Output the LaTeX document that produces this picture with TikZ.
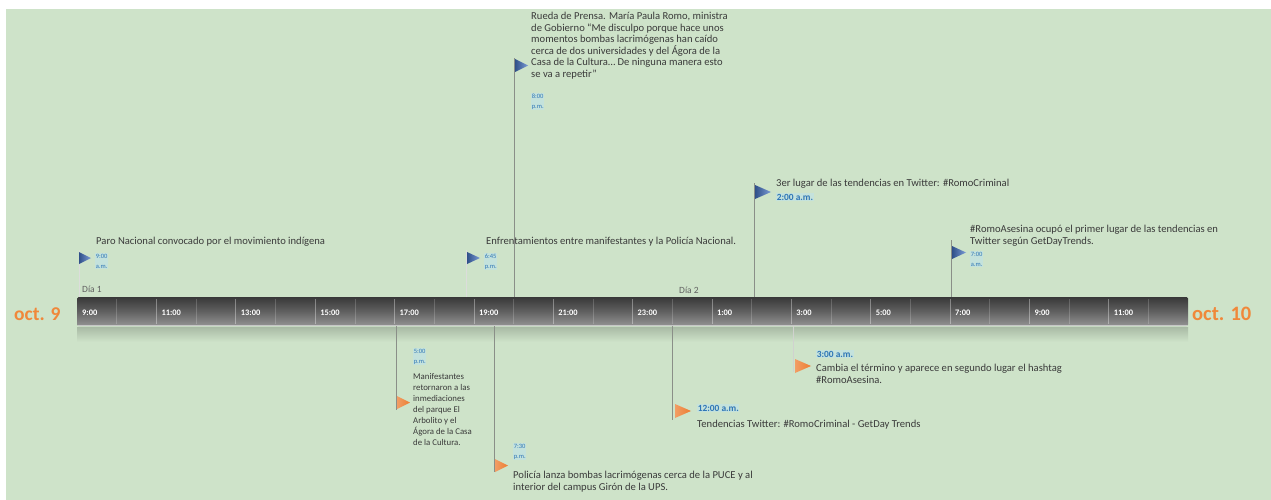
\documentclass[tikz,border=0pt]{standalone}
\usepackage{fontspec}
\setmainfont{Carlito}
\definecolor{bg}{HTML}{CEE3C9}
\definecolor{txt}{HTML}{3A3A3A}
\definecolor{tblue}{HTML}{2E75B6}
\definecolor{hl}{HTML}{C4E2DC}
\definecolor{fblue}{HTML}{4472C4}
\definecolor{forange}{HTML}{ED7D31}
\definecolor{octc}{HTML}{F0883A}
\definecolor{polec}{HTML}{8A8F88}
\begin{document}
\begin{tikzpicture}[x=1pt,y=-1pt,
  desc/.style={anchor=north west, inner sep=0pt, font=\fontsize{10.6}{11.6}\selectfont, text=txt, align=left},
  descs/.style={anchor=north west, inner sep=0pt, font=\fontsize{8.8}{11}\selectfont, text=txt, align=left},
  descl/.style={anchor=base west, inner sep=0pt, font=\fontsize{10.6}{11.6}\selectfont, text=txt},
  tm/.style={anchor=north west, inner sep=0.6pt, font=\fontsize{6.5}{10}\selectfont, text=tblue, align=left, fill=hl},
  tmb/.style={anchor=base west, inner sep=0.6pt, font=\bfseries\fontsize{9.4}{10}\selectfont, text=tblue, fill=hl},
  pole/.style={draw=polec, line width=0.6pt},
  tick/.style={anchor=base west, inner sep=0pt, font=\bfseries\fontsize{8.4}{9}\selectfont, text=white},
  octlab/.style={anchor=base west, inner sep=0pt, font=\bfseries\fontsize{19.5}{20}\selectfont, text=octc},
  dia/.style={anchor=base west, inner sep=0pt, font=\fontsize{9.5}{10}\selectfont, text=txt!80}]
\useasboundingbox (0,0) rectangle (1271,500);
\fill[white] (0,0) rectangle (1271,500);
\fill[bg] (6,9) rectangle (1271,500);

% reflection band under bar
\shade[top color=black!18!bg, bottom color=bg] (77,327) rectangle (1188,342);
% bar
\shade[top color=black!78, bottom color=black!42, middle color=black!62, rounded corners=1.5pt] (77,297) rectangle (1188,326);
\draw[white, opacity=0.5, line width=0.6pt] (78,325.5) -- (1187,325.5);
% separators and tick labels
\foreach \k in {1,...,13} {
  \draw[white, opacity=0.35, line width=0.5pt] ({77+79.36*\k},299) -- ({77+79.36*\k},324);
}
\foreach \k in {0,...,13} {
  \draw[white, opacity=0.18, line width=0.4pt] ({77+79.36*\k+39.68},299) -- ({77+79.36*\k+39.68},324);
}
\foreach \lab [count=\i from 0] in {9:00,11:00,13:00,15:00,17:00,19:00,21:00,23:00,1:00,3:00,5:00,7:00,9:00,11:00} {
  \node[tick] (t\i) at ({77+79.36*\i+5},315) {\lab};
}
\node[octlab] (oct9) at (14,320) {oct. 9};
\node[octlab, font=\bfseries\fontsize{20.5}{21}\selectfont] (oct10) at (1192,320) {oct. 10};
\node[dia] (dia1) at (82,292) {Día 1};
\node[dia] (dia2) at (679,293) {Día 2};

% ---------- events above ----------
% 1 Paro Nacional
\coordinate (b1) at (79,297); \coordinate (f1) at (79,250);
\draw[pole, draw=white!70!polec] (b1) -- (f1);
\shade[left color=fblue!70!black, right color=fblue!70] (79,252) -- (91,258) -- (79,264) -- cycle;
\node[descl] (e1) at (96,244) {Paro Nacional convocado por el movimiento indígena};
\node[tm] (e1t) at (95,253) {9:00\\a.m.};

% 2 Enfrentamientos
\coordinate (b2) at (466,297); \coordinate (f2) at (466,250);
\draw[pole, draw=white!70!polec] (b2) -- (f2);
\shade[left color=fblue!70!black, right color=fblue!70] (467,252) -- (480,258) -- (467,264) -- cycle;
\node[descl] (e2) at (486,244) {Enfrentamientos entre manifestantes y la Policía Nacional.};
\node[tm] (e2t) at (484,253) {6:45\\p.m.};

% 3 Rueda de Prensa
\coordinate (b3) at (514,297); \coordinate (f3) at (514,58);
\draw[pole] (b3) -- (f3);
\shade[left color=fblue!70!black, right color=fblue!70] (515,59) -- (528,65.5) -- (515,72) -- cycle;
\node[desc] (e3) at (531,12) {Rueda de Prensa. María Paula Romo, ministra\\de Gobierno “Me disculpo porque hace unos\\momentos bombas lacrimógenas han caído\\cerca de dos universidades y del Ágora de la\\Casa de la Cultura… De ninguna manera esto\\se va a repetir”};
\node[tm] (e3t) at (531,93) {8:00\\p.m.};

% 4 3er lugar
\coordinate (b4) at (754,297); \coordinate (f4) at (754,183);
\draw[pole] (b4) -- (f4);
\shade[left color=fblue!70!black, right color=fblue!70] (755,185) -- (771,192) -- (755,199) -- cycle;
\node[descl] (e4) at (776,186) {3er lugar de las tendencias en Twitter: \#RomoCriminal};
\node[tmb] (e4t) at (776,200) {2:00 a.m.};

% 5 RomoAsesina primer lugar
\coordinate (b5) at (951,297); \coordinate (f5) at (951,240);
\draw[pole] (b5) -- (f5);
\shade[left color=fblue!70!black, right color=fblue!70] (952,246) -- (966,252.5) -- (952,259) -- cycle;
\node[desc] (e5) at (970,225) {\#RomoAsesina ocupó el primer lugar de las tendencias en\\Twitter según GetDayTrends.};
\node[tm] (e5t) at (970,251) {7:00\\a.m.};

% ---------- events below ----------
% 6 Manifestantes
\coordinate (b6) at (396,326); \coordinate (f6) at (396,410);
\draw[pole] (b6) -- (f6);
\shade[left color=forange!75!white, right color=forange] (397,396) -- (410,402.5) -- (397,409) -- cycle;
\node[tm] (e6t) at (413,348) {5:00\\p.m.};
\node[descs] (e6) at (413,373) {Manifestantes\\retornaron a las\\inmediaciones\\del parque El\\Arbolito y el\\Ágora de la Casa\\de la Cultura.};

% 7 Policía lanza bombas
\coordinate (b7) at (494,326); \coordinate (f7) at (494,472);
\draw[pole] (b7) -- (f7);
\shade[left color=forange!75!white, right color=forange] (495,459) -- (508,465.5) -- (495,472) -- cycle;
\node[tm] (e7t) at (513,443) {7:30\\p.m.};
\node[desc] (e7) at (513,471) {Policía lanza bombas lacrimógenas cerca de la PUCE y al\\interior del campus Girón de la UPS.};

% 8 Tendencias Twitter
\coordinate (b8) at (672,326); \coordinate (f8) at (672,420);
\draw[pole] (b8) -- (f8);
\shade[left color=forange!75!white, right color=forange] (675,404) -- (691,411) -- (675,418) -- cycle;
\node[tmb] (e8t) at (697,411) {12:00 a.m.};
\node[descl] (e8) at (697,427) {Tendencias Twitter: \#RomoCriminal - GetDay Trends};

% 9 Cambia el término
\coordinate (b9) at (793,326); \coordinate (f9) at (793,372);
\draw[pole, draw=white!60!polec] (b9) -- (f9);
\shade[left color=forange!75!white, right color=forange] (795,359) -- (811,366) -- (795,373) -- cycle;
\node[tmb] (e9t) at (816,357) {3:00 a.m.};
\node[desc] (e9) at (816,364) {Cambia el término y aparece en segundo lugar el hashtag\\\#RomoAsesina.};
\end{tikzpicture}
\end{document}
